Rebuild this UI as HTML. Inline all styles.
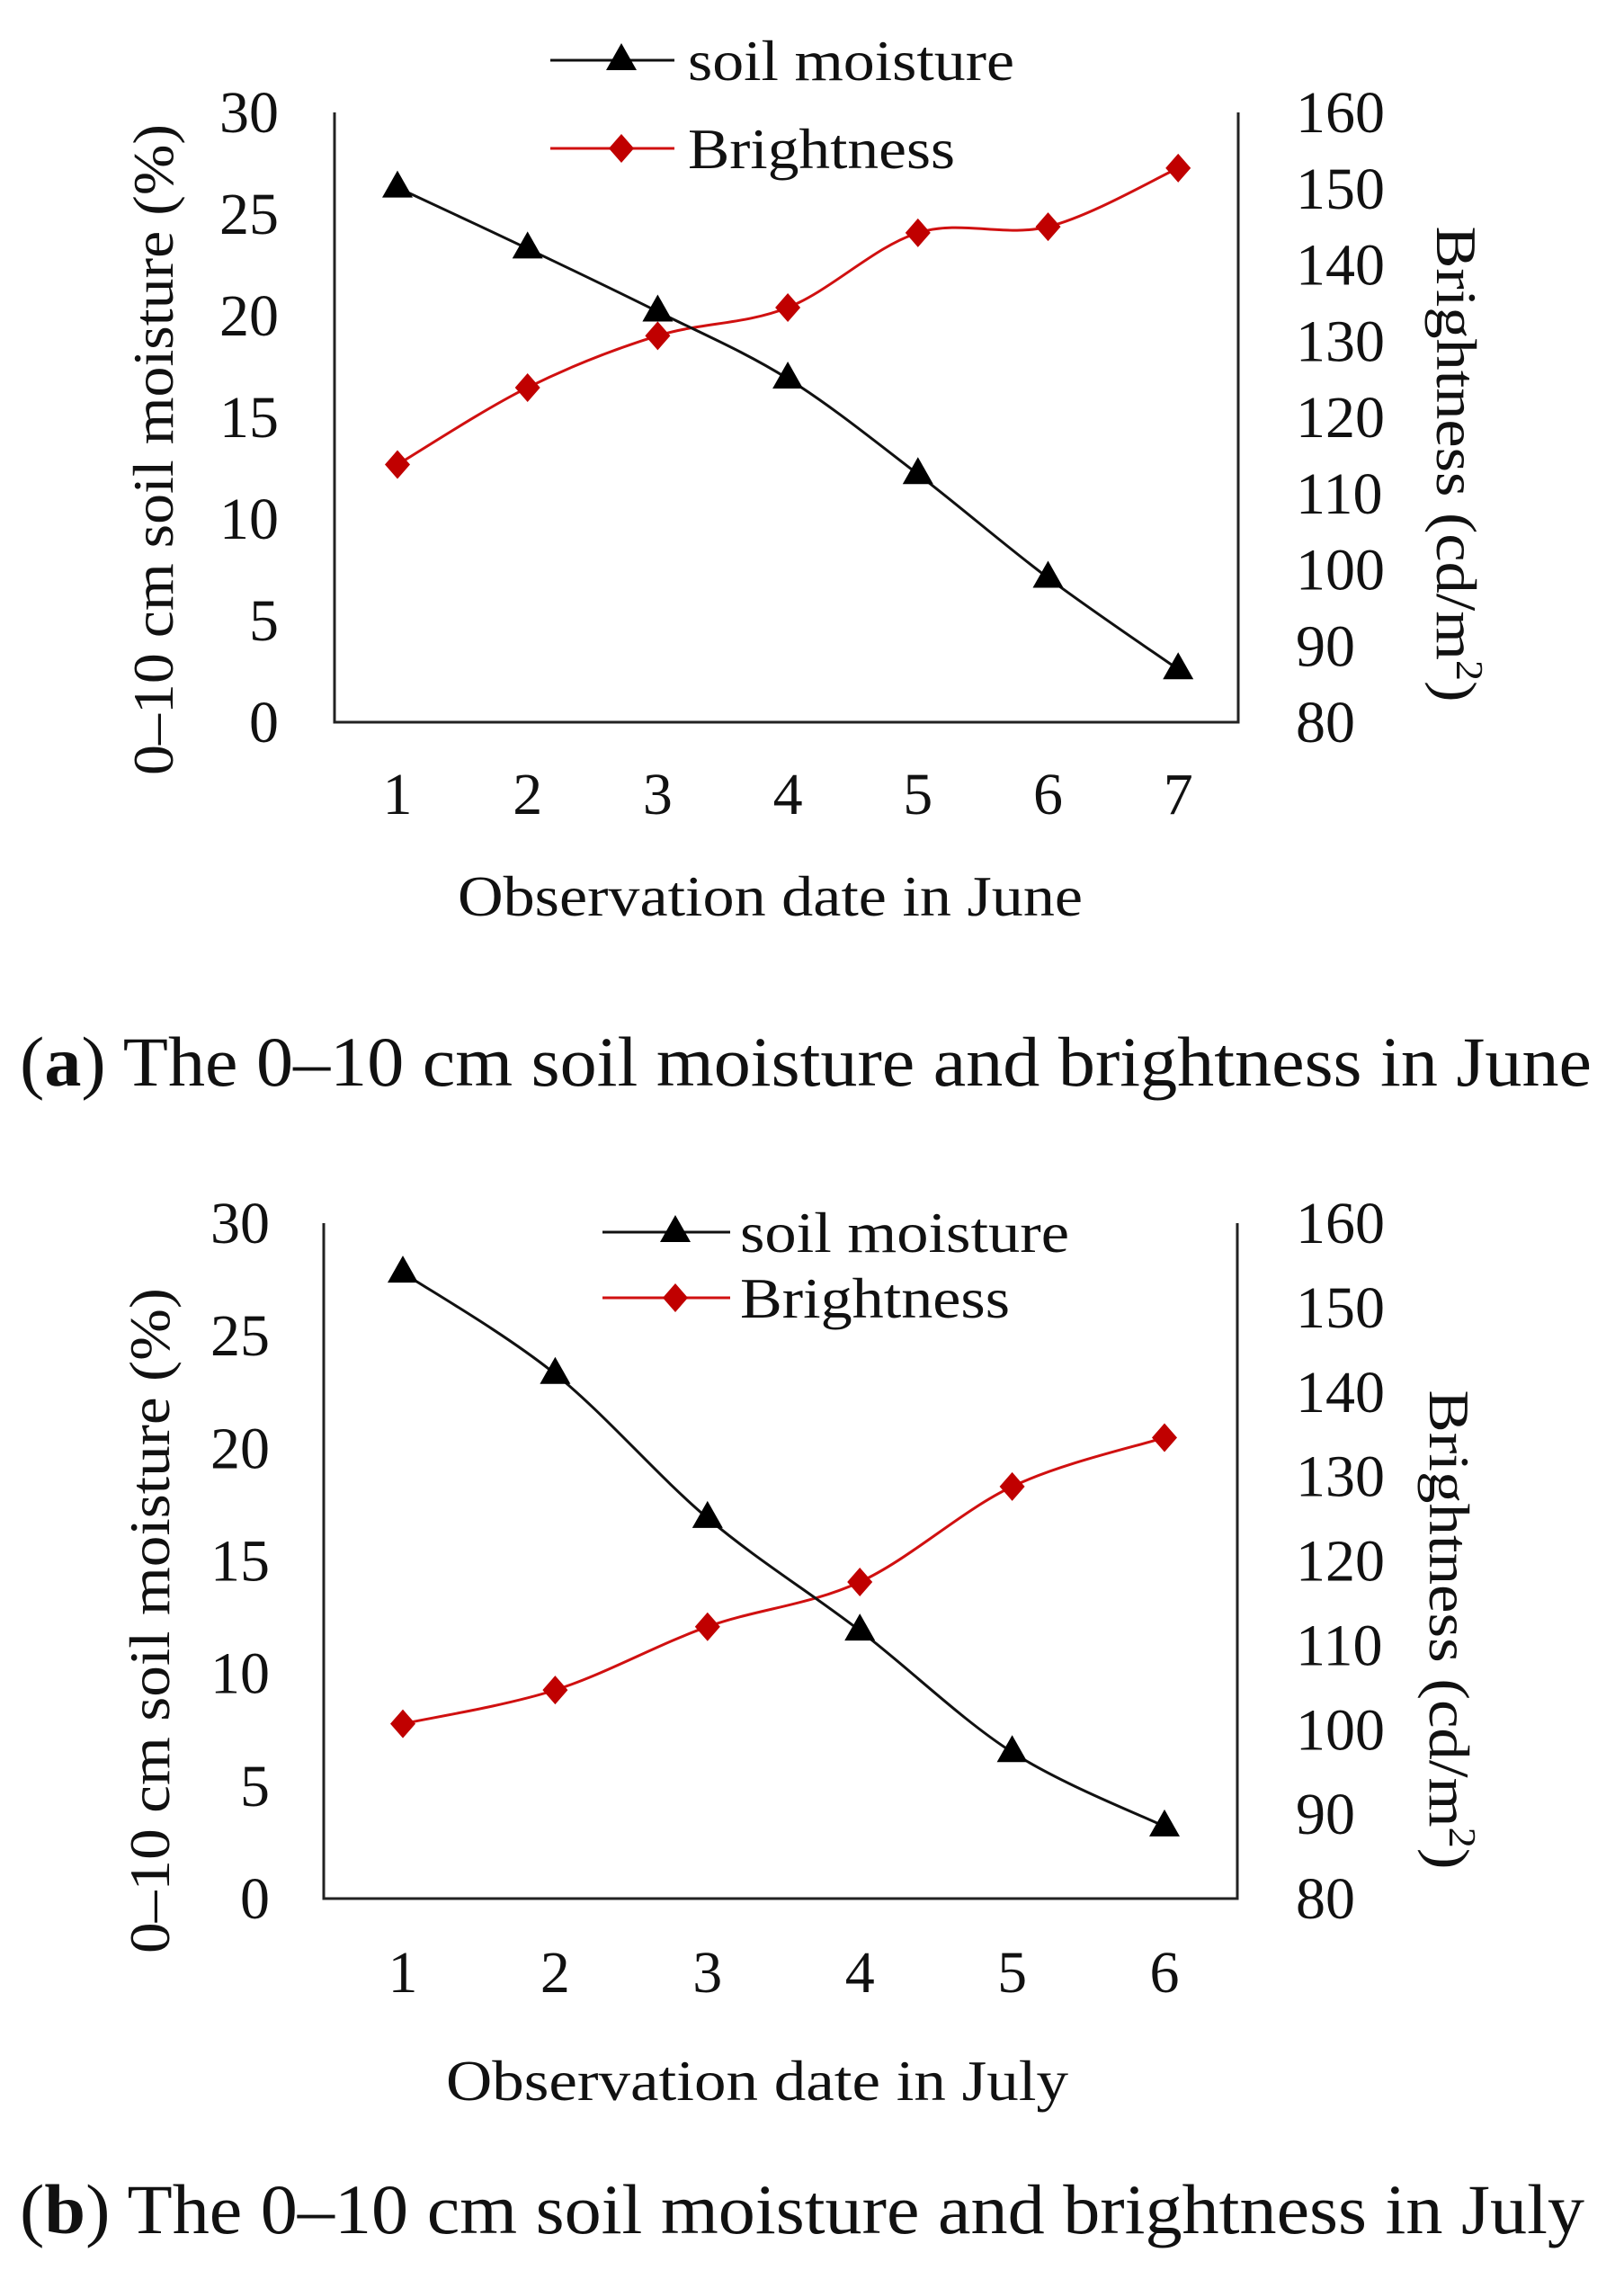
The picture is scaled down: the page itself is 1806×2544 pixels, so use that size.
<!DOCTYPE html>
<html><head><meta charset="utf-8">
<style>
html,body{margin:0;padding:0;background:#fff;}
svg{display:block;}
text{font-family:"Liberation Serif",serif;fill:#111;}
</style></head>
<body>
<svg id="fig" width="1806" height="2544" viewBox="0 0 1806 2544" xmlns="http://www.w3.org/2000/svg">
<text x="22" y="1207" font-size="78" textLength="1748" lengthAdjust="spacingAndGlyphs">(<tspan font-weight="bold">a</tspan>) The 0–10 cm soil moisture and brightness in June</text>
<text x="22" y="2483" font-size="78" textLength="1740" lengthAdjust="spacingAndGlyphs">(<tspan font-weight="bold">b</tspan>) The 0–10 cm soil moisture and brightness in July</text>
</svg>
<script>
const catsA = [1,2,3,4,5,6,7];
const soilA = [26.3,23.3,20.2,16.9,12.2,7.1,2.6];
const brightA = [113.8,123.9,130.7,134.4,144.2,145.0,152.7];
const catsB = [1,2,3,4,5,6];
const soilB = [27.8,23.3,16.9,11.9,6.5,3.2];
const brightB = [100.7,104.7,112.2,117.5,128.8,134.6];
const leftTicks = [0,5,10,15,20,25,30];
const rightTicks = [80,90,100,110,120,130,140,150,160];

const NS = "http://www.w3.org/2000/svg";
const svg = document.getElementById('fig');
function mk(tag, attrs, parent){
  const e = document.createElementNS(NS, tag);
  for (const k in attrs) e.setAttribute(k, attrs[k]);
  (parent||svg).appendChild(e);
  return e;
}
function smooth(pts){
  let d = `M${pts[0][0]},${pts[0][1]}`;
  for (let i=0;i<pts.length-1;i++){
    const p0=pts[Math.max(0,i-1)], p1=pts[i], p2=pts[i+1], p3=pts[Math.min(pts.length-1,i+2)];
    const t=1/6;
    const c1=[p1[0]+(p2[0]-p0[0])*t, p1[1]+(p2[1]-p0[1])*t];
    const c2=[p2[0]-(p3[0]-p1[0])*t, p2[1]-(p3[1]-p1[1])*t];
    d += ` C${c1[0]},${c1[1]} ${c2[0]},${c2[1]} ${p2[0]},${p2[1]}`;
  }
  return d;
}
function tri(g,x,y){
  const t = mk('polygon',{points:`${x},${y-19} ${x-17},${y+11} ${x+17},${y+11}`,fill:'#000'},g);
  return t;
}
function dia(g,x,y){
  return mk('polygon',{points:`${x},${y-16} ${x+14},${y} ${x},${y+16} ${x-14},${y}`,fill:'#c00000'},g);
}

function chart(c){
  const g = mk('g',{});
  
  
  const yL = v => c.bottom - (v/30)*(c.bottom-c.top);
  const yR = v => c.bottom - ((v-80)/80)*(c.bottom-c.top);
  const xC = i => c.x0 + i*c.dx;
  const ax = mk('path',{d:`M${c.left},${c.top} V${c.bottom} H${c.right} V${c.top}`,fill:'none',stroke:'#222','stroke-width':3},g);
  
  
  leftTicks.forEach(v=>{
    const t = mk('text',{x:c.lx,y:yL(v)+22,'font-size':66,'text-anchor':'end'},g);
    t.textContent = v;
    
    
  });
  rightTicks.forEach(v=>{
    const t = mk('text',{x:1441,y:yR(v)+22,'font-size':66},g);
    t.textContent = v;
    
    
  });
  c.cats.forEach((v,i)=>{
    const t = mk('text',{x:xC(i),y:c.xly,'font-size':66,'text-anchor':'middle'},g);
    t.textContent = v;
    
    
  });
  const sp = c.soil.map((v,i)=>[xC(i),yL(v)]);
  const bp = c.bright.map((v,i)=>[xC(i),yR(v)]);
  const bl = mk('path',{d:smooth(bp),fill:'none',stroke:'#d01010','stroke-width':3},g);
  
  
  const sl = mk('path',{d:smooth(sp),fill:'none',stroke:'#111','stroke-width':3},g);
  
  
  bp.forEach(p=>{
    const m = dia(g,p[0],p[1]);
    
    
  });
  sp.forEach(p=>{
    const m = tri(g,p[0],p[1]);
    
    
  });
  // legend
  const lg = mk('g',{},g);
  
  
  mk('line',{x1:c.legX1,x2:c.legX2,y1:c.legY1,y2:c.legY1,stroke:'#111','stroke-width':3},lg);
  tri(lg,(c.legX1+c.legX2)/2+10,c.legY1);
  let t = mk('text',{x:c.legT,y:c.legY1+22,'font-size':64,textLength:c.legW1,lengthAdjust:'spacingAndGlyphs'},lg);
  t.textContent='soil moisture';
  
  
  mk('line',{x1:c.legX1,x2:c.legX2,y1:c.legY2,y2:c.legY2,stroke:'#d01010','stroke-width':3},lg);
  dia(lg,(c.legX1+c.legX2)/2+10,c.legY2);
  t = mk('text',{x:c.legT,y:c.legY2+22,'font-size':64,textLength:c.legW2,lengthAdjust:'spacingAndGlyphs'},lg);
  t.textContent='Brightness';
  
  
  // titles
  t = mk('text',{x:c.xtX,y:c.xtY,'font-size':64,textLength:c.xtW,lengthAdjust:'spacingAndGlyphs'},g);
  t.textContent = c.xtitle;
  
  
  t = mk('text',{x:0,y:0,'font-size':64,'text-anchor':'middle',textLength:c.ltW,lengthAdjust:'spacingAndGlyphs',transform:`translate(${c.ltX},${c.ltY}) rotate(-90)`},g);
  t.textContent = '0–10 cm soil moisture (%)';
  
  
  t = mk('text',{x:0,y:0,'font-size':64,'text-anchor':'middle',textLength:c.rtW,lengthAdjust:'spacingAndGlyphs',transform:`translate(${c.rtX},${c.rtY}) rotate(90)`},g);
  t.innerHTML = 'Brightness (cd/m<tspan dy="-22" font-size="42">2</tspan><tspan dy="22">)</tspan>';
  
  
}

chart({name:'chart-june',cats:catsA,soil:soilA,bright:brightA,left:372,right:1377,top:125,bottom:803,
  x0:442,dx:144.7,lx:310,xly:905,legX1:612,legX2:750,legY1:67,legY2:165,legT:765,legW1:363,legW2:297,
  xtitle:'Observation date in June',xtX:509,xtY:1018,xtW:695,ltX:192,ltY:500,ltW:724,rtX:1598,rtY:516,rtW:529});
chart({name:'chart-july',cats:catsB,soil:soilB,bright:brightB,left:360,right:1376,top:1360,bottom:2111,
  x0:448,dx:169.4,lx:300,xly:2215,legX1:670,legX2:812,legY1:1370,legY2:1443,legT:823,legW1:366,legW2:300,
  xtitle:'Observation date in July',xtX:496,xtY:2335,xtW:692,ltX:188,ltY:1802,ltW:740,rtX:1590,rtY:1812,rtW:533});
</script>
</body></html>
